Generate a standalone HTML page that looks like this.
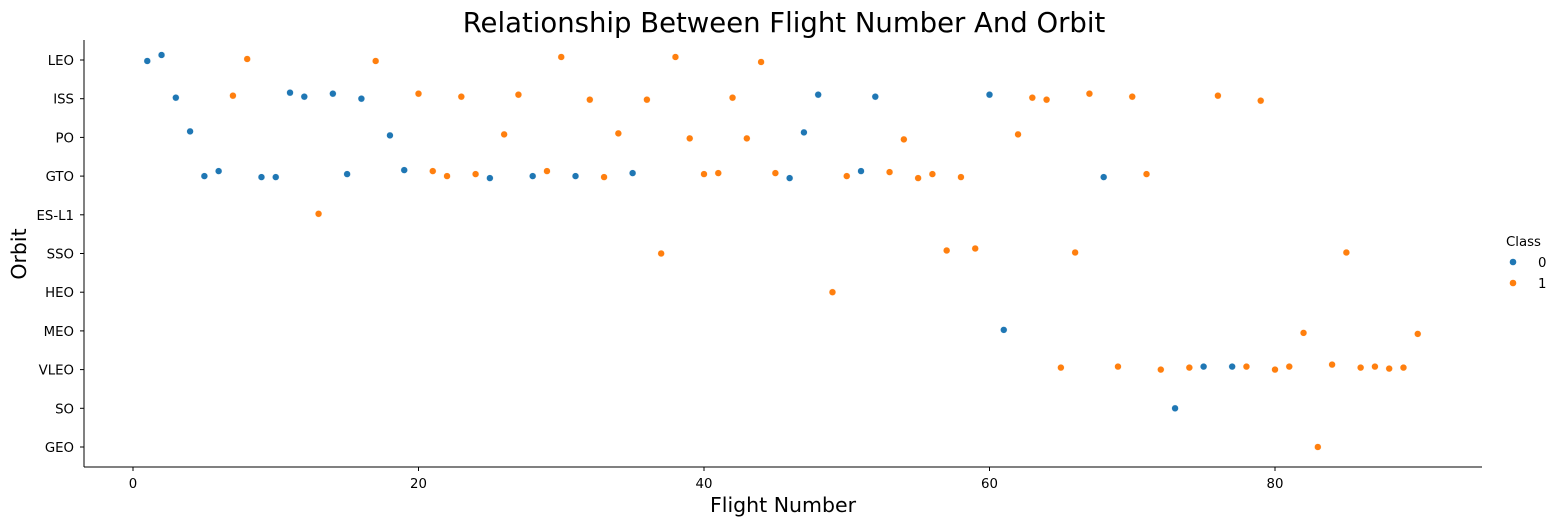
<!DOCTYPE html>
<html><head><meta charset="utf-8">
<style>
body{margin:0;background:#fff;}
svg{display:block;font-family:"DejaVu Sans","Liberation Sans",sans-serif;}
</style></head>
<body>
<svg id="chart" width="1559" height="526" viewBox="0 0 1559 526">
<text x="784" y="32" text-anchor="middle" font-size="27.5" fill="#000">Relationship Between Flight Number And Orbit</text>
<text x="783" y="512" text-anchor="middle" font-size="20.5" fill="#000">Flight Number</text>
<text x="26" y="254" text-anchor="middle" font-size="20.5" fill="#000" transform="rotate(-90 26 254)">Orbit</text>
<g id="axes"></g>
<g id="points"></g>
<g>
<text x="1506" y="246" font-size="13.3">Class</text>
<g><circle cx="1513" cy="262" r="3.3" fill="#1f77b4"/><text x="1538" y="267" font-size="13.3">0</text></g>
<g><circle cx="1513" cy="283" r="3.3" fill="#ff7f0e"/><text x="1538" y="288" font-size="13.3">1</text></g>
</g>
</svg>
<script>
const categories=["LEO","ISS","PO","GTO","ES-L1","SSO","HEO","MEO","VLEO","SO","GEO"];
const xTicks=[0,20,40,60,80];
const flightNumbers=[];for(let i=1;i<=90;i++)flightNumbers.push(i);
const orbits=["LEO","LEO","ISS","PO","GTO","GTO","ISS","LEO","GTO","GTO","ISS","ISS","ES-L1","ISS","GTO","ISS","LEO","PO","GTO","ISS","GTO","GTO","ISS","GTO","GTO","PO","ISS","GTO","GTO","LEO","GTO","ISS","GTO","PO","GTO","ISS","SSO","LEO","PO","GTO","GTO","ISS","PO","LEO","GTO","GTO","PO","ISS","HEO","GTO","GTO","ISS","GTO","PO","GTO","GTO","SSO","GTO","SSO","ISS","MEO","PO","ISS","ISS","VLEO","SSO","ISS","GTO","VLEO","ISS","GTO","VLEO","SO","VLEO","VLEO","ISS","VLEO","VLEO","ISS","VLEO","VLEO","MEO","GEO","VLEO","SSO","VLEO","VLEO","VLEO","VLEO","MEO"];
const classes=[0,0,0,0,0,0,1,1,0,0,0,0,1,0,0,0,1,0,0,1,1,1,1,1,0,1,1,0,1,1,0,1,1,1,0,1,1,1,1,1,1,1,1,1,1,0,0,0,1,1,0,0,1,1,1,1,1,1,1,0,0,1,1,1,1,1,1,0,1,1,1,1,0,1,0,1,0,1,1,1,1,1,1,1,1,1,1,1,1,1];
const jitter=[1,-5,-1,-6,0,-5,-3,-1,1,1,-6,-2,-1,-5,-2,0,1,-2,-6,-5,-5,0,-2,-2,2,-3,-4,0,-5,-3,0,1,1,-4,-3,1,0,-3,1,-2,-3,-1,1,2,-3,2,-5,-4,0,0,-5,-2,-4,2,2,-2,-3,1,-5,-4,-1,-3,-1,1,-2,-1,-5,1,-3,-2,-2,0,0,-2,-3,-3,-3,-3,2,0,-3,2,0,-5,-1,-2,-3,-1,-2,3].map(v=>v/38.7);
const NS="http://www.w3.org/2000/svg";
const x=v=>133+v*(1275-133)/80;
const band=38.7;
const y=c=>60+categories.indexOf(c)*band;
function mk(t,a,p){const e=document.createElementNS(NS,t);for(const k in a)e.setAttribute(k,a[k]);p.appendChild(e);return e;}
const ax=document.getElementById('axes');
const lsp=mk('line',{x1:84,y1:40,x2:84,y2:467,stroke:'#000','stroke-width':1},ax);


const bsp=mk('line',{x1:84,y1:467,x2:1482,y2:467,stroke:'#000','stroke-width':1},ax);


categories.forEach(c=>{
  const yy=y(c);
  mk('line',{x1:80,y1:yy,x2:84,y2:yy,stroke:'#000'},ax);
  const t=mk('text',{x:74,y:yy+5,'text-anchor':'end','font-size':13.3},ax);
  t.textContent=c;
  
  
});
xTicks.forEach(v=>{
  const xx=x(v);
  mk('line',{x1:xx,y1:467,x2:xx,y2:471,stroke:'#000'},ax);
  const t=mk('text',{x:xx,y:488,'text-anchor':'middle','font-size':13.3},ax);
  t.textContent=v;
  
  
});
const pg=document.getElementById('points');
flightNumbers.forEach((f,i)=>{
  const c=mk('circle',{cx:x(f),cy:y(orbits[i])+jitter[i]*band,r:3.4,fill:classes[i]?'#ff7f0e':'#1f77b4',stroke:'#fff','stroke-width':0.4},pg);
  
  
});
</script>
</body></html>
